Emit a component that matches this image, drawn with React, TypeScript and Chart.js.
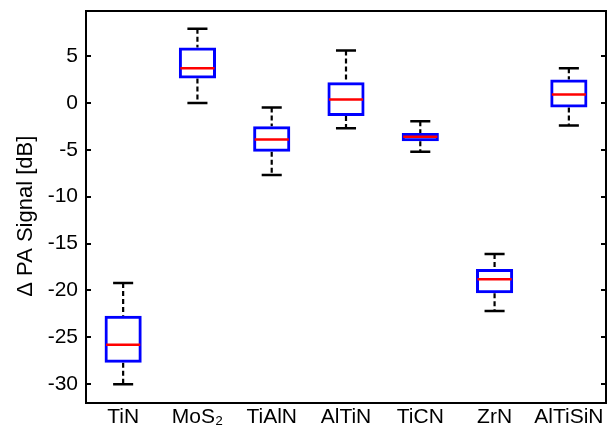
import React, { useEffect, useRef } from "react";
import { Chart, registerables } from "chart.js";

Chart.register(...registerables);

const categories = ["TiN", "MoS₂", "TiAlN", "AlTiN", "TiCN", "ZrN", "AlTiSiN"];
const whiskerLow = [-30.0, 0.0, -7.7, -2.7, -5.2, -22.2, -2.4];
const q1 = [-27.7, 2.6, -5.2, -1.4, -4.1, -20.3, -0.5];
const medians = [-25.8, 3.7, -3.9, 0.35, -3.6, -18.8, 0.9];
const q3 = [-22.7, 5.9, -2.5, 2.2, -3.2, -17.7, 2.5];
const whiskerHigh = [-19.2, 7.9, -0.5, 5.6, -1.95, -16.1, 3.7];
const yTicks = [-30, -25, -20, -15, -10, -5, 0, 5];
const yMin = -32;
const yMax = 9.8;
const yTitle = "Δ PA Signal [dB]";

const FONT = "'Liberation Sans', Arial, Helvetica, sans-serif";

const boxPlotPlugin = {
  id: "boxPlotParts",
  beforeDatasetsDraw(chart: any) {
    const { ctx, scales } = chart;
    const x = scales.x;
    const y = scales.y;
    const catW = (x.right - x.left) / categories.length;
    ctx.save();
    ctx.strokeStyle = "#000000";
    ctx.lineWidth = 2.2;
    categories.forEach((_, i) => {
      const cx = x.getPixelForValue(i);
      ctx.setLineDash([5, 3]);
      ctx.beginPath();
      ctx.moveTo(cx, y.getPixelForValue(whiskerHigh[i]));
      ctx.lineTo(cx, y.getPixelForValue(q3[i]));
      ctx.moveTo(cx, y.getPixelForValue(q1[i]));
      ctx.lineTo(cx, y.getPixelForValue(whiskerLow[i]));
      ctx.stroke();
      ctx.setLineDash([]);
      ctx.lineWidth = 2.5;
      const half = catW * 0.135;
      ctx.beginPath();
      ctx.moveTo(cx - half, y.getPixelForValue(whiskerHigh[i]));
      ctx.lineTo(cx + half, y.getPixelForValue(whiskerHigh[i]));
      ctx.moveTo(cx - half, y.getPixelForValue(whiskerLow[i]));
      ctx.lineTo(cx + half, y.getPixelForValue(whiskerLow[i]));
      ctx.stroke();
      ctx.lineWidth = 2.2;
    });
    ctx.restore();
  },
  afterDatasetsDraw(chart: any) {
    const { ctx, scales } = chart;
    const x = scales.x;
    const y = scales.y;
    const catW = (x.right - x.left) / categories.length;
    ctx.save();
    ctx.strokeStyle = "#ff0000";
    ctx.lineWidth = 2.5;
    categories.forEach((_, i) => {
      const cx = x.getPixelForValue(i);
      const half = catW * 0.25 - 1.5;
      const py = y.getPixelForValue(medians[i]);
      ctx.beginPath();
      ctx.moveTo(cx - half, py);
      ctx.lineTo(cx + half, py);
      ctx.stroke();
    });
    ctx.restore();
  },
  afterDraw(chart: any) {
    const { ctx, chartArea, scales } = chart;
    const y = scales.y;
    ctx.save();
    ctx.strokeStyle = "#000000";
    ctx.lineWidth = 2;
    ctx.strokeRect(chartArea.left, chartArea.top, chartArea.right - chartArea.left, chartArea.bottom - chartArea.top);
    ctx.beginPath();
    yTicks.forEach((t) => {
      const py = Math.round(y.getPixelForValue(t));
      ctx.moveTo(chartArea.left, py);
      ctx.lineTo(chartArea.left + 5, py);
      ctx.moveTo(chartArea.right, py);
      ctx.lineTo(chartArea.right - 5, py);
    });
    ctx.stroke();
    ctx.restore();
  },
};

export default function App() {
  const ref = useRef<HTMLCanvasElement | null>(null);
  useEffect(() => {
    if (!ref.current) return;
    const chart = new Chart(ref.current, {
      type: "bar",
      data: {
        labels: categories,
        datasets: [
          {
            label: "IQR",
            data: categories.map((_, i) => [q1[i], q3[i]]) as any,
            backgroundColor: "rgba(0,0,0,0)",
            borderColor: "#0000ff",
            borderWidth: 3,
            borderSkipped: false,
            categoryPercentage: 1,
            barPercentage: 0.5,
          },
        ],
      },
      options: {
        responsive: false,
        animation: false,
        layout: { padding: { top: 11, right: 4, left: 0, bottom: 0 } },
        plugins: { legend: { display: false }, tooltip: { enabled: false } },
        scales: {
          x: {
            grid: { display: false, drawTicks: false },
            border: { display: false },
            ticks: { color: "#000000", font: { family: FONT, size: 21 }, padding: 2, maxRotation: 0, autoSkip: false },
            afterFit: (s: any) => {
              s.height = 25;
              s.paddingLeft = 0;
              s.paddingRight = 0;
            },
          },
          y: {
            min: yMin,
            max: yMax,
            grid: { display: false, drawTicks: false },
            border: { display: false },
            afterBuildTicks: (s: any) => {
              s.ticks = yTicks.map((v) => ({ value: v }));
            },
            ticks: { color: "#000000", font: { family: FONT, size: 21 }, padding: 8 },
            title: {
              display: true,
              text: yTitle + "   ",
              color: "#000000",
              font: { family: FONT, size: 22 },
              padding: { top: 13, bottom: 0 },
            },
            afterFit: (s: any) => {
              s.width = 86;
              s.paddingTop = 0;
              s.paddingBottom = 0;
            },
          },
        },
      },
      plugins: [boxPlotPlugin],
    });
    return () => chart.destroy();
  }, []);
  return (
    <div style={{ position: "fixed", left: 0, top: 0, width: 610, height: 428, background: "#ffffff" }}>
      <canvas ref={ref} width={610} height={428} />
    </div>
  );
}
